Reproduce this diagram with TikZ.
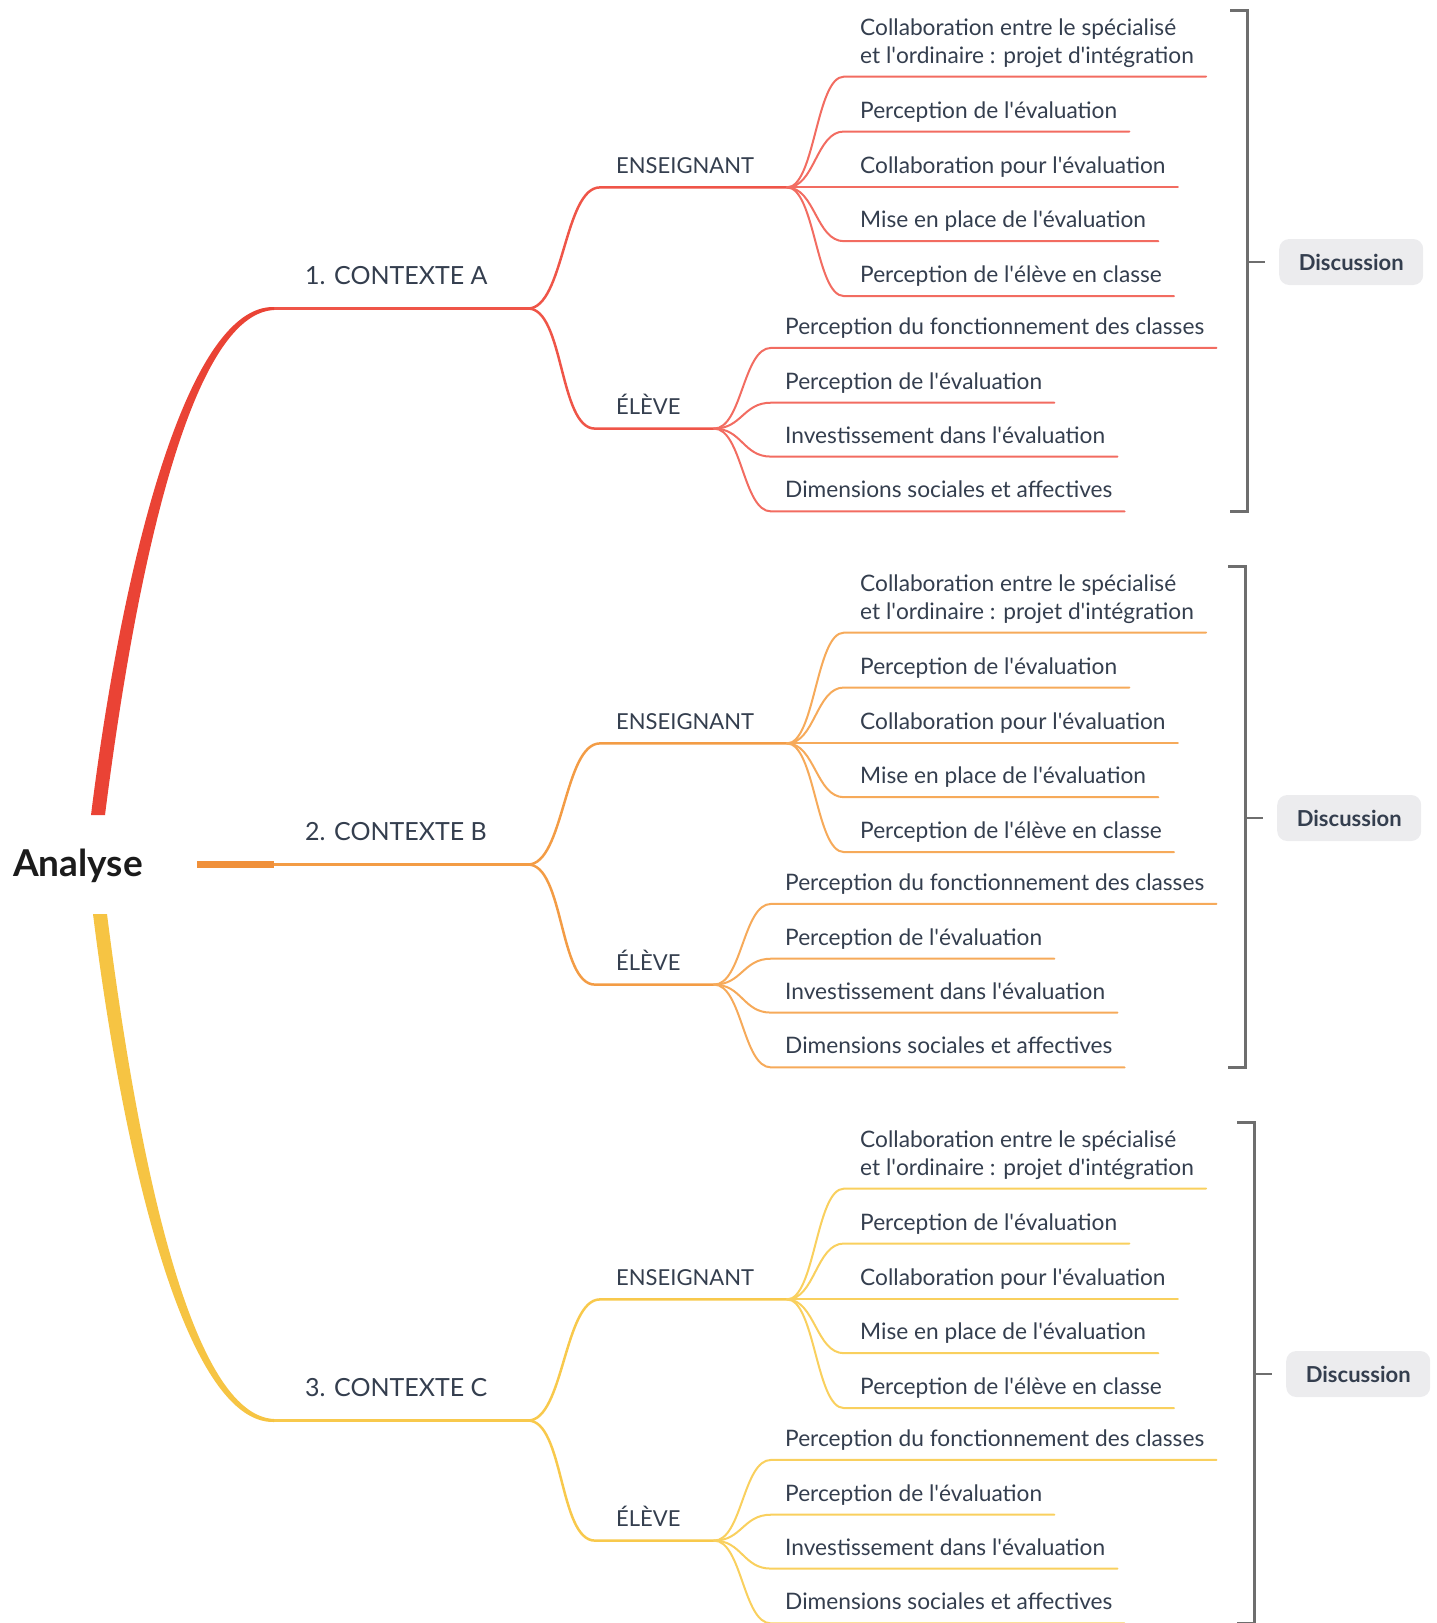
\documentclass[tikz,border=0pt]{standalone}
\usepackage{fontspec}
\setmainfont{Lato}
\usetikzlibrary{positioning}
\definecolor{encre}{HTML}{343E4E}
\definecolor{titre}{HTML}{1B1B1B}
\definecolor{rougeA}{HTML}{EA4335}
\definecolor{rougeB}{HTML}{EF5548}
\definecolor{rougeL}{HTML}{F26C61}
\definecolor{orangeA}{HTML}{F0903A}
\definecolor{orangeB}{HTML}{F39C45}
\definecolor{orangeL}{HTML}{F6AA5A}
\definecolor{jauneA}{HTML}{F6C443}
\definecolor{jauneB}{HTML}{F8C94C}
\definecolor{jauneL}{HTML}{F9D05E}
\definecolor{crochet}{HTML}{6E6E6E}
\definecolor{fondDisc}{HTML}{ECECEE}
\newcommand{\ap}{\textquotesingle}

\tikzset{
	niveauA/.style={font=\fontsize{25}{29}\selectfont, text=encre, inner sep=0pt, anchor=base west},
	niveauB/.style={font=\fontsize{22}{26}\selectfont, text=encre, inner sep=0pt, anchor=base west},
	feuille/.style={font=\fontsize{22.7}{27.5}\selectfont, text=encre, inner sep=0pt, anchor=base west, align=left},
	discussion/.style={fill=fondDisc, rounded corners=10pt, minimum width=144pt, minimum height=46pt, font=\bfseries\fontsize{22}{26}\selectfont, text=encre},
	crochetligne/.style={draw=crochet, line width=2.7pt},
}

\begin{document}
\begin{tikzpicture}[x=1pt,y=-1pt,line cap=round]
	\useasboundingbox (0,0) rectangle (1437,1623);

	\node [font=\bfseries\fontsize{37}{40}\selectfont, text=titre] (analyse) at (78,865.5) {Analyse};

	% trois contextes
	\foreach \n/\lab/\cA/\cL/\dy/\bx in {1/A/rougeB/rougeL/0/1247.5, 2/B/orangeB/orangeL/556/1245.5, 3/C/jauneB/jauneL/1112/1254.5}{
		\begin{scope}[yshift=-\dy pt]
			\coordinate (r\n) at (274,308.5);
			\coordinate (f\n) at (528,308.5);
			\node [niveauA] (ctx\n) at (305,284.5) {\n. CONTEXTE \lab};
			\draw [\cA, line width=3pt] (r\n) -- (f\n);

			\coordinate (e\n) at (600,187.4);
			\coordinate (ef\n) at (787,187.4);
			\node [niveauB] (ens\n) at (616,173.4) {ENSEIGNANT};
			\coordinate (v\n) at (595,428.6);
			\coordinate (vf\n) at (714,428.6);
			\node [niveauB] (elv\n) at (616,414.6) {ÉLÈVE};
			\draw [\cA, line width=2.5pt] (f\n) .. controls +(36,0) and +(-36,0) .. (e\n) -- (ef\n);
			\draw [\cA, line width=2.5pt] (f\n) .. controls +(36,0) and +(-36,0) .. (v\n) -- (vf\n);

			\foreach \k/\y/\t in {1/76.6/{Collaboration entre le spécialisé\\et l\ap ordinaire : projet d\ap intégration},
					2/131.5/{Perception de l\ap évaluation},
					3/187.4/{Collaboration pour l\ap évaluation},
					4/241.2/{Mise en place de l\ap évaluation},
					5/296.1/{Perception de l\ap élève en classe}}{
				\coordinate (ea\n-\k) at (844,\y);
				\node [feuille] (ens\n-\k) at (860,\y-13.5) {\t};
				\draw [\cL, line width=2pt] (ef\n) .. controls +(28,0) and +(-28,0) .. (ea\n-\k) -- (ens\n-\k.east |- ea\n-\k) -- ++(12,0);
			}
			\foreach \k/\y/\t in {1/347.9/{Perception du fonctionnement des classes},
					2/402.7/{Perception de l\ap évaluation},
					3/456.6/{Investissement dans l\ap évaluation},
					4/511.4/{Dimensions sociales et affectives}}{
				\coordinate (va\n-\k) at (771,\y);
				\node [feuille] (elv\n-\k) at (785,\y-13.5) {\t};
				\draw [\cL, line width=2pt] (vf\n) .. controls +(28,0) and +(-28,0) .. (va\n-\k) -- (elv\n-\k.east |- va\n-\k) -- ++(12,0);
			}

			% crochet + discussion
			\coordinate (bh\n) at (\bx,10.4);
			\coordinate (bb\n) at (\bx,511.4);
			\coordinate (bm\n) at (\bx,262);
			\draw [crochetligne, line cap=butt] (bh\n) ++(-17.5,0) -- (bh\n) -- (bb\n) -- ++(-17.5,0);
			\draw [crochetligne, line cap=butt] (bm\n) -- ++(17.5,0) coordinate (bt\n);
			\node [discussion, right=14pt of bt\n] (disc\n) {Discussion};
		\end{scope}
	}

	% branches principales
	\coordinate (ra) at (98,815);
	\coordinate (oa) at (197,864.5);
	\coordinate (ja) at (100,914);
	\fill [rougeA] ([xshift=-7pt]ra) .. controls (123,558) and (188,305) .. ([yshift=1.5pt]r1) -- ([yshift=-1.5pt]r1) .. controls (192,314) and (137,562) .. ([xshift=7pt]ra) -- cycle;
	\draw [orangeA, line width=7.5pt, line cap=butt] (oa) -- (r2);
	\fill [jauneA] ([xshift=-7pt]ja) .. controls (125,1171) and (188,1424) .. ([yshift=-1.5pt]r3) -- ([yshift=1.5pt]r3) .. controls (192,1415) and (139,1167) .. ([xshift=7pt]ja) -- cycle;
\end{tikzpicture}
\end{document}
